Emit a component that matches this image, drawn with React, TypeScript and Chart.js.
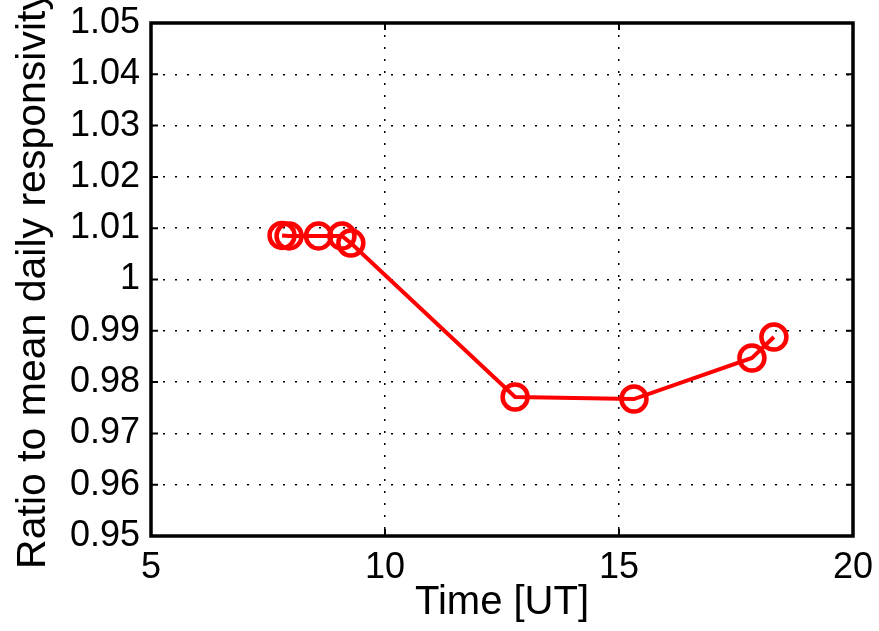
import React, { useEffect, useRef } from "react";
import { Chart, registerables } from "chart.js";

Chart.register(...registerables);

const times = [7.8, 7.95, 8.58, 9.08, 9.27, 12.78, 15.32, 17.84, 18.31];
const ratios = [1.0086, 1.0085, 1.0085, 1.0085, 1.0071, 0.9771, 0.9767, 0.9847, 0.9888];
const xTickValues = [5, 10, 15, 20];
const yTickValues = [0.95, 0.96, 0.97, 0.98, 0.99, 1.0, 1.01, 1.02, 1.03, 1.04, 1.05];
const yTickLabels = ["0.95", "0.96", "0.97", "0.98", "0.99", "1", "1.01", "1.02", "1.03", "1.04", "1.05"];
const xTitle = "Time [UT]";
const yTitle = "Ratio to mean daily responsivity";

const FONT = "'Liberation Sans', Arial, Helvetica, sans-serif";

const framePlugin = {
  id: "matlabFrame",
  afterDatasetsDraw(chart: any) {
    const { ctx, chartArea } = chart;
    const { left, right, top, bottom } = chartArea;
    const xs = chart.scales.x;
    const ys = chart.scales.y;
    const tl = 7;
    ctx.save();
    ctx.strokeStyle = "#000";
    ctx.lineWidth = 2;
    ctx.setLineDash([]);
    ctx.beginPath();
    for (const v of xTickValues) {
      const px = xs.getPixelForValue(v);
      ctx.moveTo(px, bottom);
      ctx.lineTo(px, bottom - tl);
      ctx.moveTo(px, top);
      ctx.lineTo(px, top + tl);
    }
    for (const v of yTickValues) {
      const py = ys.getPixelForValue(v);
      ctx.moveTo(left, py);
      ctx.lineTo(left + tl, py);
      ctx.moveTo(right, py);
      ctx.lineTo(right - tl, py);
    }
    ctx.stroke();
    ctx.lineWidth = 3.5;
    ctx.strokeRect(left, top, right - left, bottom - top);
    ctx.restore();
  },
};

export default function App() {
  const ref = useRef<HTMLCanvasElement | null>(null);

  useEffect(() => {
    document.body.style.margin = "0";
    if (!ref.current) return;
    const chart = new Chart(ref.current, {
      type: "line",
      data: {
        datasets: [
          {
            data: times.map((t, i) => ({ x: t, y: ratios[i] })),
            borderColor: "#ff0000",
            borderWidth: 4,
            backgroundColor: "rgba(0,0,0,0)",
            pointRadius: 12.5,
            pointBorderWidth: 4.5,
            pointBorderColor: "#ff0000",
            pointBackgroundColor: "rgba(0,0,0,0)",
            pointStyle: "circle",
            tension: 0,
            fill: false,
          },
        ],
      },
      options: {
        animation: false,
        responsive: false,
        events: [],
        layout: { padding: { top: 23, right: 26, left: 0, bottom: 0 } },
        plugins: {
          legend: { display: false },
          tooltip: { enabled: false },
        },
        scales: {
          x: {
            type: "linear",
            min: 5,
            max: 20,
            afterFit: (s: any) => {
              s.height = 95;
              s.paddingLeft = 0;
              s.paddingRight = 0;
            },
            afterBuildTicks: (s: any) => {
              s.ticks = xTickValues.map((v) => ({ value: v }));
            },
            ticks: {
              color: "#000",
              font: { family: FONT, size: 36 },
              padding: 10,
              maxRotation: 0,
              autoSkip: false,
              callback: (v: any) => String(v),
            },
            grid: {
              color: "#000",
              lineWidth: 1.5,
              drawTicks: false,
            },
            border: { display: false, dash: [2, 10] },
            title: {
              display: true,
              text: xTitle,
              color: "#000",
              font: { family: FONT, size: 40 },
              padding: { top: 0, bottom: 4 },
            },
          },
          y: {
            type: "linear",
            min: 0.95,
            max: 1.05,
            afterFit: (s: any) => {
              s.width = 151;
              s.paddingTop = 0;
              s.paddingBottom = 0;
            },
            afterBuildTicks: (s: any) => {
              s.ticks = yTickValues.map((v) => ({ value: v }));
            },
            ticks: {
              color: "#000",
              font: { family: FONT, size: 36 },
              padding: 11,
              autoSkip: false,
              callback: (v: any) => {
                const i = yTickValues.findIndex((t) => Math.abs(t - v) < 1e-9);
                return i >= 0 ? yTickLabels[i] : "";
              },
            },
            grid: {
              color: "#000",
              lineWidth: 1.5,
              drawTicks: false,
            },
            border: { display: false, dash: [2, 10] },
            title: {
              display: true,
              text: yTitle,
              color: "#000",
              font: { family: FONT, size: 41 },
              padding: { top: 9, bottom: 0 },
            },
          },
        },
      },
      plugins: [framePlugin],
    });
    return () => chart.destroy();
  }, []);

  return (
    <div style={{ width: 879, height: 631, background: "#fff" }}>
      <canvas ref={ref} width={879} height={631} />
    </div>
  );
}
